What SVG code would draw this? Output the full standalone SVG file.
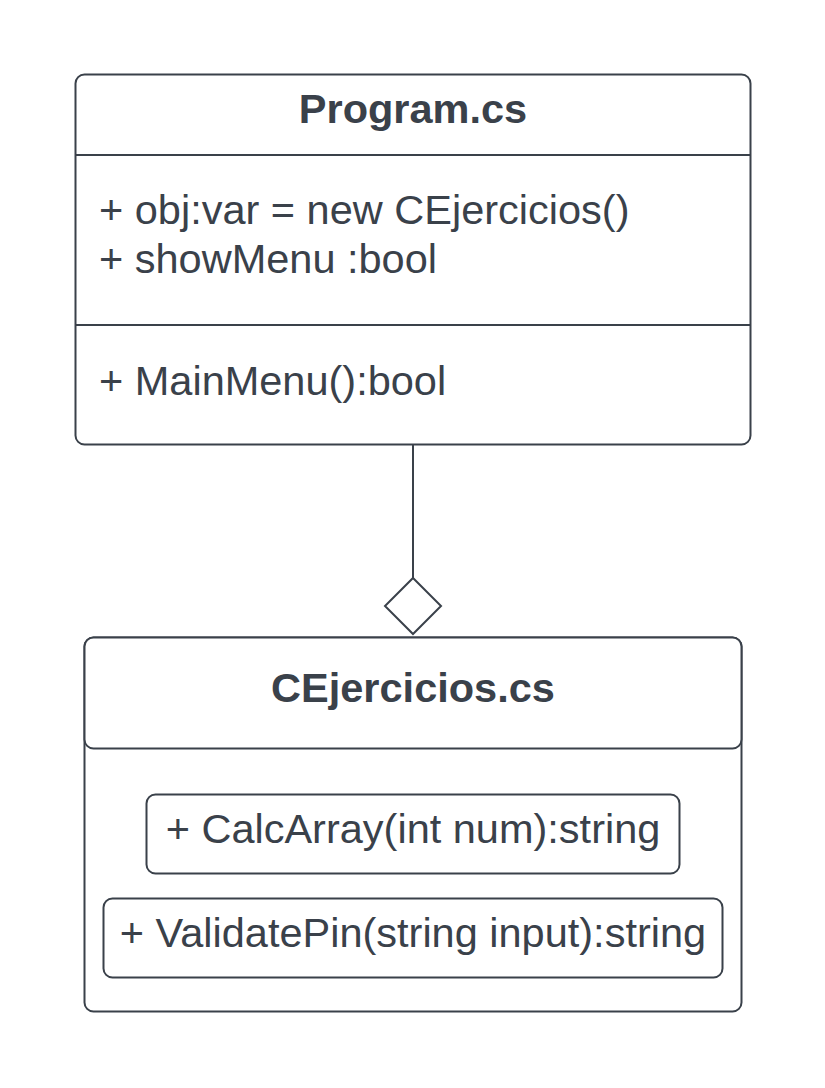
<svg xmlns="http://www.w3.org/2000/svg" width="825" height="1088" viewBox="0 0 825 1088">
<style>
.box{fill:#ffffff;stroke:#3a414a;stroke-width:2}
.ln{stroke:#3a414a;stroke-width:2;fill:none}
.t{font-family:"Liberation Sans",Arial,sans-serif;font-size:41.5px;fill:#3a414a}
.b{font-weight:bold}
.c{text-anchor:middle}
</style>
<rect width="825" height="1088" fill="#ffffff"/>
<g id="program">
<rect class="box" x="75.5" y="74.5" width="675" height="370" rx="9"/>
<line class="ln" x1="75.5" y1="155" x2="750.5" y2="155"/>
<line class="ln" x1="75.5" y1="325" x2="750.5" y2="325"/>
<text class="t b c" x="413" y="123">Program.cs</text>
<text class="t" x="99" y="224">+ obj:var = new CEjercicios()</text>
<text class="t" x="99" y="273">+ showMenu :bool</text>
<text class="t" x="99" y="395">+ MainMenu():bool</text>
</g>
<g id="connectors">
<line class="ln" x1="413" y1="445" x2="413" y2="578"/>
<polygon class="box" points="413,578 441,606 413,634 385,606"/>
</g>
<g id="cejercicios">
<rect class="box" x="84.5" y="637.5" width="657" height="374" rx="9"/>
<rect class="box" x="84.5" y="637.5" width="657" height="111" rx="9"/>
<text class="t b c" x="413" y="702">CEjercicios.cs</text>
<g id="calcarray">
<rect class="box" x="146.5" y="794.5" width="533" height="79" rx="9"/>
<text class="t c" x="413" y="843">+ CalcArray(int num):string</text>
</g>
<g id="validatepin">
<rect class="box" x="103.5" y="898.5" width="619" height="79" rx="9"/>
<text class="t c" x="413" y="947">+ ValidatePin(string input):string</text>
</g>
</g>
</svg>
